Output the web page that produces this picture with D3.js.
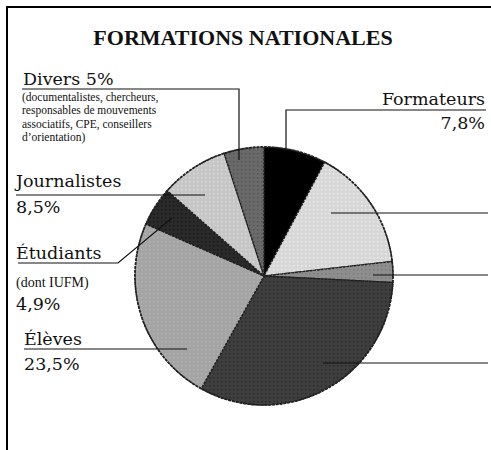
<!DOCTYPE html>
<html>
<head>
<meta charset="utf-8">
<script src="https://cdn.jsdelivr.net/npm/d3@7"></script>
<style>
  body { margin: 0; background: #fff; }
  svg { display: block; }
</style>
</head>
<body>
<div id="chart"></div>
<script>
// slices clockwise from 12 o'clock
const categories = ["Formateurs", "", "", "", "Élèves", "Étudiants", "Journalistes", "Divers"];
const shares = [7.8, 15.4, 2.6, 32.3, 23.5, 4.9, 8.5, 5.0];
const baseColors = ["#000000", "#d7d7d7", "#8e8e8e", "#3e3e3e", "#a4a4a4", "#2a2a2a", "#c6c6c6", "#6a6a6a"];
const dotColors = ["#000000", "#ebebeb", "#7c7c7c", "#2c2c2c", "#b3b3b3", "#1a1a1a", "#d6d6d6", "#555555"];

const serif = "'Liberation Serif', 'Times New Roman', Times, serif";
const bigSerif = "'DejaVu Serif', serif";
const width = 491, height = 450;
const cx = 264, cy = 276, radius = 129;

const svg = d3.select("#chart").append("svg")
    .attr("width", width)
    .attr("height", height);

// frame (cut off on the right and bottom in the original)
svg.append("rect")
    .attr("x", 7).attr("y", 7)
    .attr("width", 520).attr("height", 480)
    .attr("fill", "none")
    .attr("stroke", "#000")
    .attr("stroke-width", 2);

svg.append("text")
    .attr("x", 243).attr("y", 45)
    .attr("text-anchor", "middle")
    .attr("font-family", serif)
    .attr("font-size", 22)
    .attr("font-weight", "bold")
    .attr("fill", "#111")
    .text("FORMATIONS NATIONALES");

// halftone look
const defs = svg.append("defs");
baseColors.forEach((c, i) => {
    const p = defs.append("pattern")
        .attr("id", "pat" + i)
        .attr("patternUnits", "userSpaceOnUse")
        .attr("width", 4).attr("height", 4);
    p.append("rect").attr("width", 4).attr("height", 4).attr("fill", c);
    p.append("rect").attr("x", 1).attr("y", 1).attr("width", 1.5).attr("height", 1.5).attr("fill", dotColors[i]);
});

const pie = d3.pie().sort(null).value(d => d)(shares);
const arc = d3.arc().innerRadius(0).outerRadius(radius);

const g = svg.append("g").attr("transform", `translate(${cx},${cy})`);
g.selectAll("path")
    .data(pie).enter()
    .append("path")
    .attr("d", arc)
    .attr("fill", (d, i) => `url(#pat${i})`)
    .attr("stroke", "#1e1e1e")
    .attr("stroke-width", 1.4)
    .attr("stroke-dasharray", "2.5,1.2");

g.append("circle")
    .attr("r", radius)
    .attr("fill", "none")
    .attr("stroke", "#222")
    .attr("stroke-width", 1.6)
    .attr("stroke-dasharray", "3,1");

// leader lines
const leaders = [
    [[286, 148], [286, 110], [486, 110]],
    [[239, 160], [239, 89], [22, 89]],
    [[205, 195], [16, 195]],
    [[172, 218], [118, 263], [18, 263]],
    [[187, 349], [24, 349]],
    [[331, 213], [488, 213]],
    [[373, 275], [488, 275]],
    [[323, 363], [488, 363]]
];
svg.selectAll("path.leader")
    .data(leaders).enter()
    .append("path")
    .attr("class", "leader")
    .attr("d", d3.line())
    .attr("fill", "none")
    .attr("stroke", "#111")
    .attr("stroke-width", 1.2);

function label(x, y, txt, size, anchor, fam) {
    svg.append("text")
        .attr("x", x).attr("y", y)
        .attr("text-anchor", anchor || "start")
        .attr("font-family", fam || serif)
        .attr("font-size", size)
        .attr("fill", "#111")
        .text(txt);
}

label(485, 105, categories[0], 17.5, "end", bigSerif);
label(485, 129, "7,8%", 17.5, "end", bigSerif);

label(23, 85, categories[7] + " 5%", 17.5, "start", bigSerif);
const diversNote = ["(documentalistes, chercheurs,", "responsables de mouvements", "associatifs, CPE, conseillers", "d’orientation)"];
diversNote.forEach((t, i) => label(22, 101 + i * 13.3, t, 11.5));

label(16, 187, categories[6], 17.5, "start", bigSerif);
label(16, 213, "8,5%", 17.5, "start", bigSerif);

label(16, 259, categories[5], 17.5, "start", bigSerif);
label(16, 287, "(dont IUFM)", 14);
label(16, 310, "4,9%", 17.5, "start", bigSerif);

label(24, 345, categories[4], 17.5, "start", bigSerif);
label(24, 370, "23,5%", 17.5, "start", bigSerif);
</script>
</body>
</html>
